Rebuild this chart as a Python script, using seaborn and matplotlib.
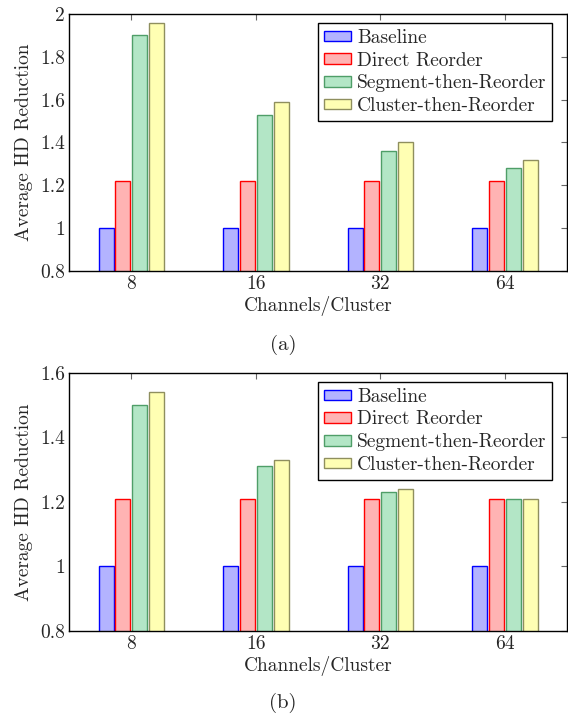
import matplotlib
matplotlib.use("Agg")
import matplotlib.pyplot as plt
import seaborn as sns
import pandas as pd
from matplotlib.ticker import FuncFormatter

# ------------------------------------------------------------
# data
# ------------------------------------------------------------
channels = ["8", "16", "32", "64"]
methods = ["Baseline", "Direct Reorder", "Segment-then-Reorder", "Cluster-then-Reorder"]

baseline_a = [1.00, 1.00, 1.00, 1.00]
direct_a = [1.22, 1.22, 1.22, 1.22]
segment_a = [1.90, 1.53, 1.36, 1.28]
cluster_a = [1.96, 1.59, 1.40, 1.32]

baseline_b = [1.00, 1.00, 1.00, 1.00]
direct_b = [1.21, 1.21, 1.21, 1.21]
segment_b = [1.50, 1.31, 1.23, 1.21]
cluster_b = [1.54, 1.33, 1.24, 1.21]

fills = ["#b3b3ff", "#ffb3b3", "#b3e6c6", "#ffffb3"]
edges = ["#0000ff", "#ff0000", "#4f9e68", "#8f8f5e"]


def to_long(series):
    rows = []
    for m, vals in zip(methods, series):
        for c, v in zip(channels, vals):
            rows.append({"Channels/Cluster": c, "method": m, "value": v})
    return pd.DataFrame(rows)


def draw_panel(ax, df, ylim, yticks):
    sns.barplot(data=df, x="Channels/Cluster", y="value", hue="method",
                hue_order=methods, order=channels, ax=ax,
                width=0.54, gap=0.11, legend=False, palette=fills,
                saturation=1, err_kws={"linewidth": 0})
    for cont, fc, ec in zip(ax.containers, fills, edges):
        for p in cont:
            p.set_facecolor(fc)
            p.set_edgecolor(ec)
            p.set_linewidth(1.0)
    ax.set_xlim(-0.5, 3.5)
    ax.set_ylim(*ylim)
    ax.set_yticks(yticks)
    ax.yaxis.set_major_formatter(FuncFormatter(lambda v, _: f"{v:g}"))
    ax.set_ylabel("Average HD Reduction", fontsize=14, labelpad=5)
    ax.set_xlabel("Channels/Cluster", fontsize=14, labelpad=2)
    ax.tick_params(direction="in", length=4, color="#666666", labelsize=14,
                   top=True, right=True, pad=3)
    for s in ax.spines.values():
        s.set_color("black")
        s.set_linewidth(1.0)
    ax.legend(ax.containers, methods, loc="upper right",
              bbox_to_anchor=(0.97, 0.965), borderaxespad=0, fontsize=14,
              frameon=True, fancybox=False, edgecolor="black",
              framealpha=1, handlelength=1.4, handleheight=0.45,
              handletextpad=0.3, labelspacing=0.25, borderpad=0.3)
    ax.get_legend().get_frame().set_linewidth(1.0)


sns.set_style("white")
plt.rcParams["font.family"] = ["cmr10", "DejaVu Serif"]
plt.rcParams["axes.formatter.use_mathtext"] = True

fig = plt.figure(figsize=(5.68, 7.15), dpi=100)
ax1 = fig.add_axes([0.1215, 0.621, 0.877, 0.3594])
ax2 = fig.add_axes([0.1215, 0.1175, 0.877, 0.361])

draw_panel(ax1, to_long([baseline_a, direct_a, segment_a, cluster_a]),
           (0.8, 2.0), [0.8, 1.0, 1.2, 1.4, 1.6, 1.8, 2.0])
draw_panel(ax2, to_long([baseline_b, direct_b, segment_b, cluster_b]),
           (0.8, 1.6), [0.8, 1.0, 1.2, 1.4, 1.6])

fig.text(0.4985, 1 - 345 / 715, "(a)", ha="center", va="center", fontsize=15)
fig.text(0.4985, 1 - 703 / 715, "(b)", ha="center", va="center", fontsize=15)

fig.savefig("out.png", dpi=100)
